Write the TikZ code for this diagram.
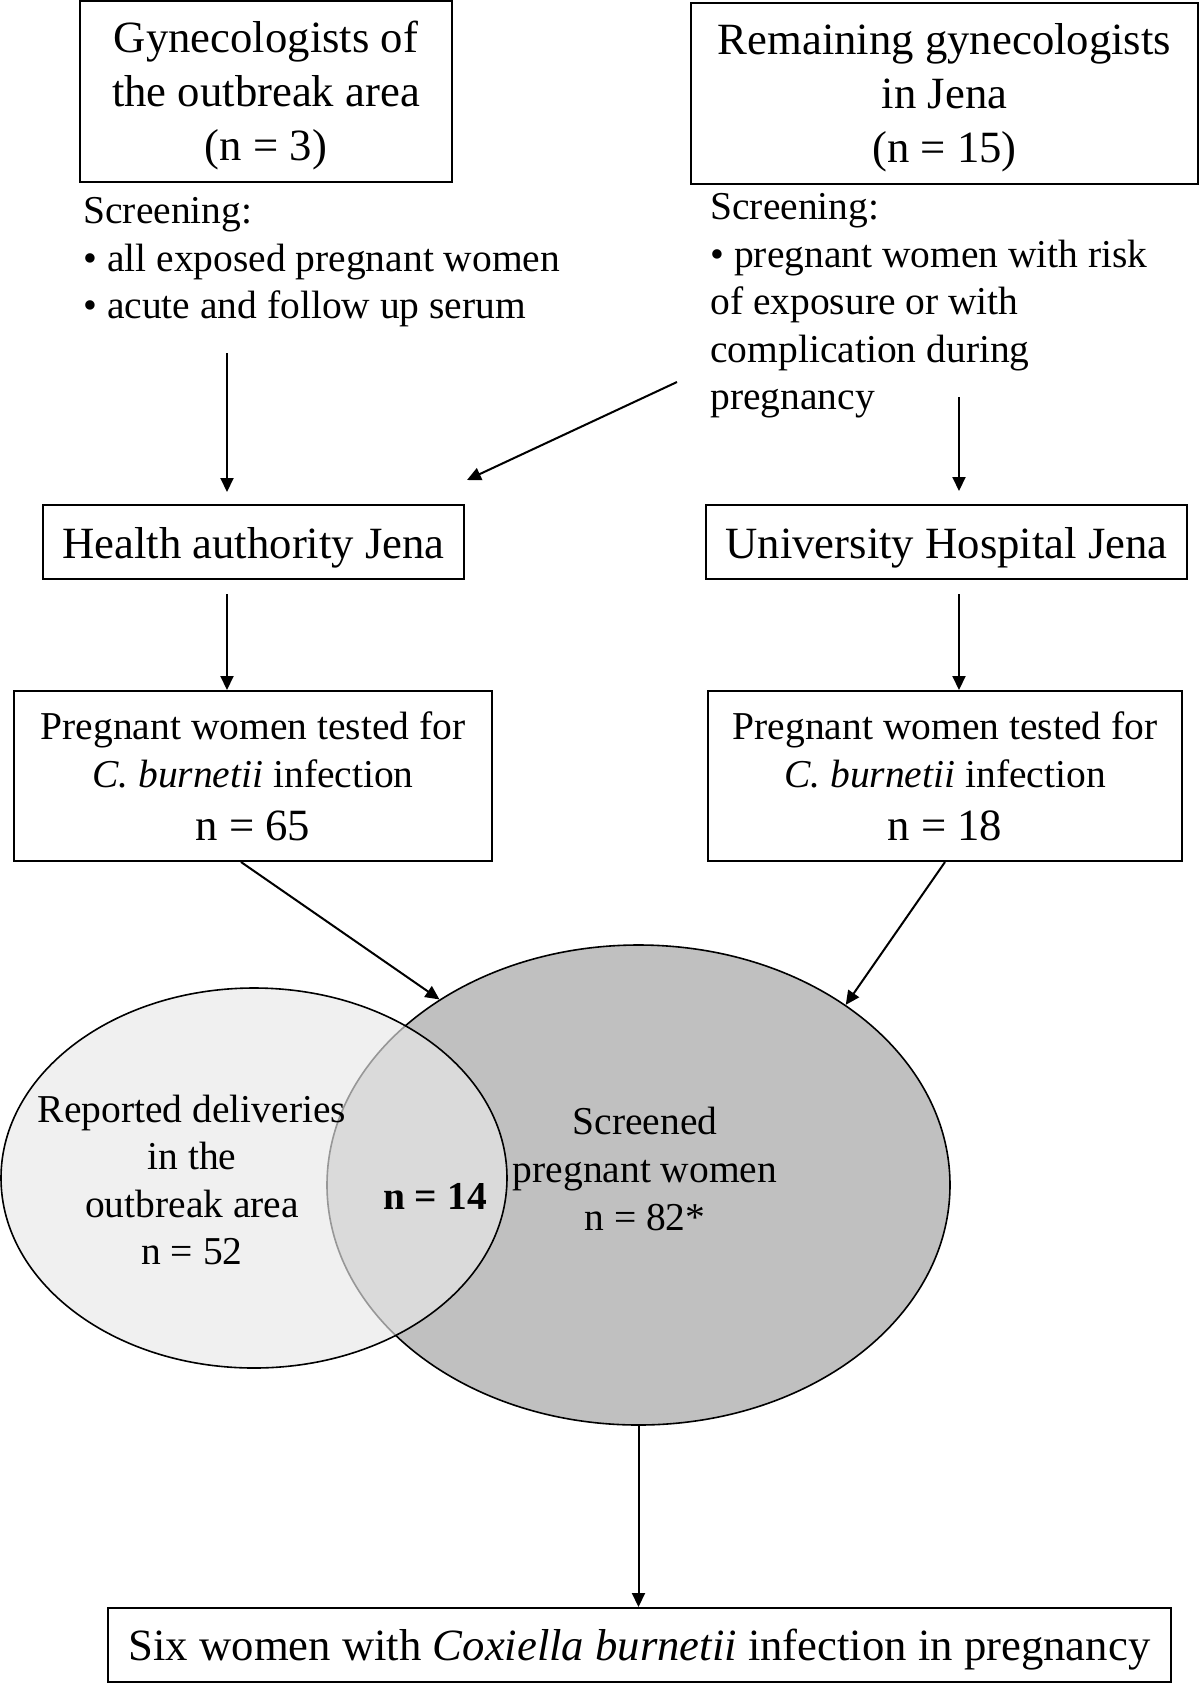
\documentclass[tikz,border=0pt]{standalone}
\usepackage{fontspec}
\setmainfont{Liberation Serif}
\usetikzlibrary{arrows.meta,shapes.geometric}
\definecolor{vennlight}{RGB}{232,232,232}
\definecolor{venndark}{RGB}{192,192,192}
\newcommand{\bigfs}{\fontsize{22.35}{27}\selectfont}
\newcommand{\smallfs}{\fontsize{19.75}{23.8}\selectfont}
\begin{document}
\begin{tikzpicture}[x=0.5pt,y=-0.5pt,
  box/.style={draw,line width=1pt,inner sep=0pt,align=center,rectangle},
  bigbox/.style={box,font=\bigfs},
  smallbox/.style={box,font=\smallfs},
  arr/.style={line width=1pt,-{Triangle[length=7pt,width=6.5pt]}},
  note/.style={inner sep=0pt,align=left,anchor=north west,font=\smallfs},
  venntext/.style={inner sep=0pt,align=center,font=\smallfs},
  venn/.style={ellipse,draw,line width=0.8pt,inner sep=0pt}
]
\useasboundingbox (0,0) rectangle (1200,1683);

% top boxes
\node[bigbox,minimum width=186pt,minimum height=90.5pt] (g1) at (266,91.5)
  {\rule{0pt}{19.5pt}Gynecologists of\\the outbreak area\\(n = 3)};
\node[bigbox,minimum width=253.5pt,minimum height=90.5pt] (g2) at (944.5,93.5)
  {\rule{0pt}{20pt}Remaining gynecologists\\in Jena\\(n = 15)};

% screening notes
\node[note] (s1) at (83,197)
  {Screening:\\• all exposed pregnant women\\• acute and follow up serum};
\node[note] (s2) at (710,193)
  {Screening:\\• pregnant women with risk\\of exposure or with\\complication during\\pregnancy};

% middle boxes
\node[bigbox,minimum width=210.5pt,minimum height=37pt,text height=16pt,text depth=0pt] (ha) at (253.5,542) {Health authority Jena};
\node[bigbox,minimum width=240.5pt,minimum height=37pt,text height=16pt,text depth=0pt] (uh) at (946.5,542) {University Hospital Jena};

\node[smallbox,minimum width=239pt,minimum height=85pt] (p1) at (253,776)
  {Pregnant women tested for\\\textit{C. burnetii} infection\\[2.7pt]{\bigfs n = 65}};
\node[smallbox,minimum width=237pt,minimum height=85pt] (p2) at (945,776)
  {Pregnant women tested for\\\textit{C. burnetii} infection\\[2.7pt]{\bigfs n = 18}};

% Venn diagram
\node[venn,fill=venndark,minimum width=311.5pt,minimum height=240pt] (e2) at (638.5,1185) {};
\node[venn,fill=vennlight,fill opacity=0.65,draw opacity=1,minimum width=253pt,minimum height=190pt] (e1) at (254,1178) {};
\node[venntext] (t1) at (192,1180) {Reported deliveries\\in the\\outbreak area\\n = 52};
\node[venntext] (t2) at (645,1169) {Screened\\pregnant women\\n = 82*};
\node[inner sep=0pt,font=\smallfs\bfseries] (t3) at (435,1196) {n = 14};

% bottom box
\node[bigbox,minimum width=531.5pt,minimum height=37pt,text height=15.5pt,text depth=0.5pt] (b) at (639.5,1645)
  {Six women with \textit{Coxiella burnetii} infection in pregnancy};

% connectors
\coordinate (a1) at (227,353);
\coordinate (a2s) at (677,382);
\coordinate (a2e) at (467,480);
\coordinate (a3) at (959,397);
\draw[arr,shorten >=6pt] (a1) -- (a1 |- ha.north);
\draw[arr] (a2s) -- (a2e);
\draw[arr,shorten >=6.5pt] (a3) -- (a3 |- uh.north);
\draw[arr,shorten <=7pt] (ha.south -| a1) -- (p1.north -| a1);
\draw[arr,shorten <=7pt] (uh.south -| a3) -- (p2.north -| a3);
\draw[arr] ([xshift=-6pt]p1.south) -- (e2.137.8);
\draw[arr] (p2.south) -- (e2.41.3);
\draw[arr] (e2.south) -- (e2.south |- b.north);
\end{tikzpicture}
\end{document}
